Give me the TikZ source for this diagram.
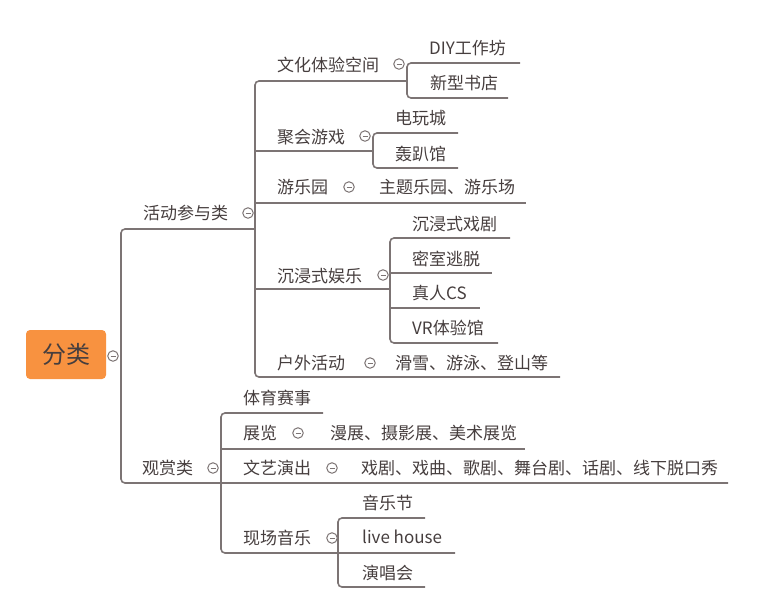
\documentclass[tikz,border=0pt]{standalone}
\usepackage{fontspec}
\setmainfont{Noto Sans CJK SC}
\definecolor{linec}{RGB}{124,116,116}
\definecolor{txtc}{RGB}{70,62,62}
\definecolor{rootc}{RGB}{248,146,64}
\begin{document}
\begin{tikzpicture}[x=1pt,y=-1pt,
  lbl/.style={anchor=base west, inner sep=0pt, yshift=-6.3pt, text=txtc,
              font=\fontsize{17pt}{20pt}\selectfont},
  link/.style={draw=linec, line width=1.6pt, rounded corners=4pt},
  tog/.style={circle, draw=linec, line width=1pt, minimum size=10.5pt, inner sep=0pt, fill=white,
              path picture={\draw[linec, line width=0.9pt]
                ([xshift=-2.5pt]path picture bounding box.center) --
                ([xshift=2.5pt]path picture bounding box.center);}}]
\useasboundingbox (0,0) rectangle (773,600);

% ---------- root ----------
\node[fill=rootc, rounded corners=4pt, minimum width=80pt, minimum height=49pt, inner sep=0pt,
      text=txtc, font=\fontsize{24pt}{28pt}\selectfont] (root) at (66,354.5) {分类};

% ---------- junction coordinates ----------
\coordinate (rA) at (255,229);  \coordinate (rC) at (121,229);
\coordinate (rD) at (121,483);  \coordinate (rE) at (728,483);
% level 2 bracket: 活动参与类
\coordinate (aT0) at (407,81);  \coordinate (aT) at (255,81);
\coordinate (aB) at (255,377);  \coordinate (aB1) at (560,377);
% 文化体验空间 bracket
\coordinate (wT1) at (520,63);  \coordinate (wT) at (407,63);
\coordinate (wB) at (407,98);   \coordinate (wB1) at (508,98);
% 聚会游戏 bracket
\coordinate (jT1) at (458,133); \coordinate (jT) at (373,133);
\coordinate (jB) at (373,168);  \coordinate (jB1) at (458,168);
% 沉浸式娱乐 bracket
\coordinate (cT1) at (510,238); \coordinate (cT) at (390,238);
\coordinate (cB) at (390,343);  \coordinate (cB1) at (498,343);
% 观赏类 bracket
\coordinate (gT1) at (323,413); \coordinate (gT) at (221,413);
\coordinate (gB) at (221,553);  \coordinate (gB1) at (455,553);
% 现场音乐 bracket
\coordinate (xT1) at (425,518); \coordinate (xT) at (338,518);
\coordinate (xB) at (338,587);  \coordinate (xB1) at (425,587);

% ---------- connectors ----------
\draw[link] (rA) -- (rC) -- (rD) -- (rE);
\draw[link] (aT0) -- (aT) -- (aB) -- (aB1);
\draw[link] (255,151) -- (jT |- 0,151);
\draw[link] (255,203) -- (526,203);
\draw[link] (255,289) -- (cT |- 0,289);
\draw[link] (wT1) -- (wT) -- (wB) -- (wB1);
\draw[link] (jT1) -- (jT) -- (jB) -- (jB1);
\draw[link] (cT1) -- (cT) -- (cB) -- (cB1);
\draw[link] (390,273) -- (492,273);
\draw[link] (390,308) -- (480,308);
\draw[link] (gT1) -- (gT) -- (gB) -- (gB1);
\draw[link] (221,449) -- (525,449);
\draw[link] (xT1) -- (xT) -- (xB) -- (xB1);

% ---------- labels ----------
\node[lbl] (n1) at (143,213) {活动参与类};
\node[lbl] (n2) at (142,468) {观赏类};
\node[lbl] (n11) at (277,65) {文化体验空间};
\node[lbl] (n12) at (277,137) {聚会游戏};
\node[lbl] (n13) at (277,187) {游乐园};
\node[lbl] (n14) at (277,276) {沉浸式娱乐};
\node[lbl] (n15) at (277,363) {户外活动};
\node[lbl] (n111) at (429,48) {DIY工作坊};
\node[lbl] (n112) at (430,83) {新型书店};
\node[lbl] (n121) at (395,118) {电玩城};
\node[lbl] (n122) at (395,154) {轰趴馆};
\node[lbl] (n131) at (379,187) {主题乐园、游乐场};
\node[lbl] (n141) at (412,224) {沉浸式戏剧};
\node[lbl] (n142) at (412,259) {密室逃脱};
\node[lbl] (n143) at (412,293) {真人CS};
\node[lbl] (n144) at (412,328) {VR体验馆};
\node[lbl] (n151) at (395,363) {滑雪、游泳、登山等};
\node[lbl] (n21) at (243,398) {体育赛事};
\node[lbl] (n22) at (243,433) {展览};
\node[lbl] (n221) at (330,433) {漫展、摄影展、美术展览};
\node[lbl] (n23) at (243,468) {文艺演出};
\node[lbl] (n231) at (361,468) {戏剧、戏曲、歌剧、舞台剧、话剧、线下脱口秀};
\node[lbl] (n24) at (243,538) {现场音乐};
\node[lbl] (n241) at (362,503) {音乐节};
\node[lbl] (n242) at (362,537) {live house};
\node[lbl] (n243) at (362,573) {演唱会};

% ---------- collapse toggles ----------
\node[tog] (t0) at (113,356) {};
\node[tog] (t1) at (248,213) {};
\node[tog] (t2) at (213,468) {};
\node[tog] (t11) at (399,64) {};
\node[tog] (t12) at (365,136) {};
\node[tog] (t13) at (349,187) {};
\node[tog] (t14) at (383,275) {};
\node[tog] (t15) at (370,363) {};
\node[tog] (t22) at (298,433) {};
\node[tog] (t23) at (332,468) {};
\node[tog] (t24) at (332,538) {};
\end{tikzpicture}
\end{document}
